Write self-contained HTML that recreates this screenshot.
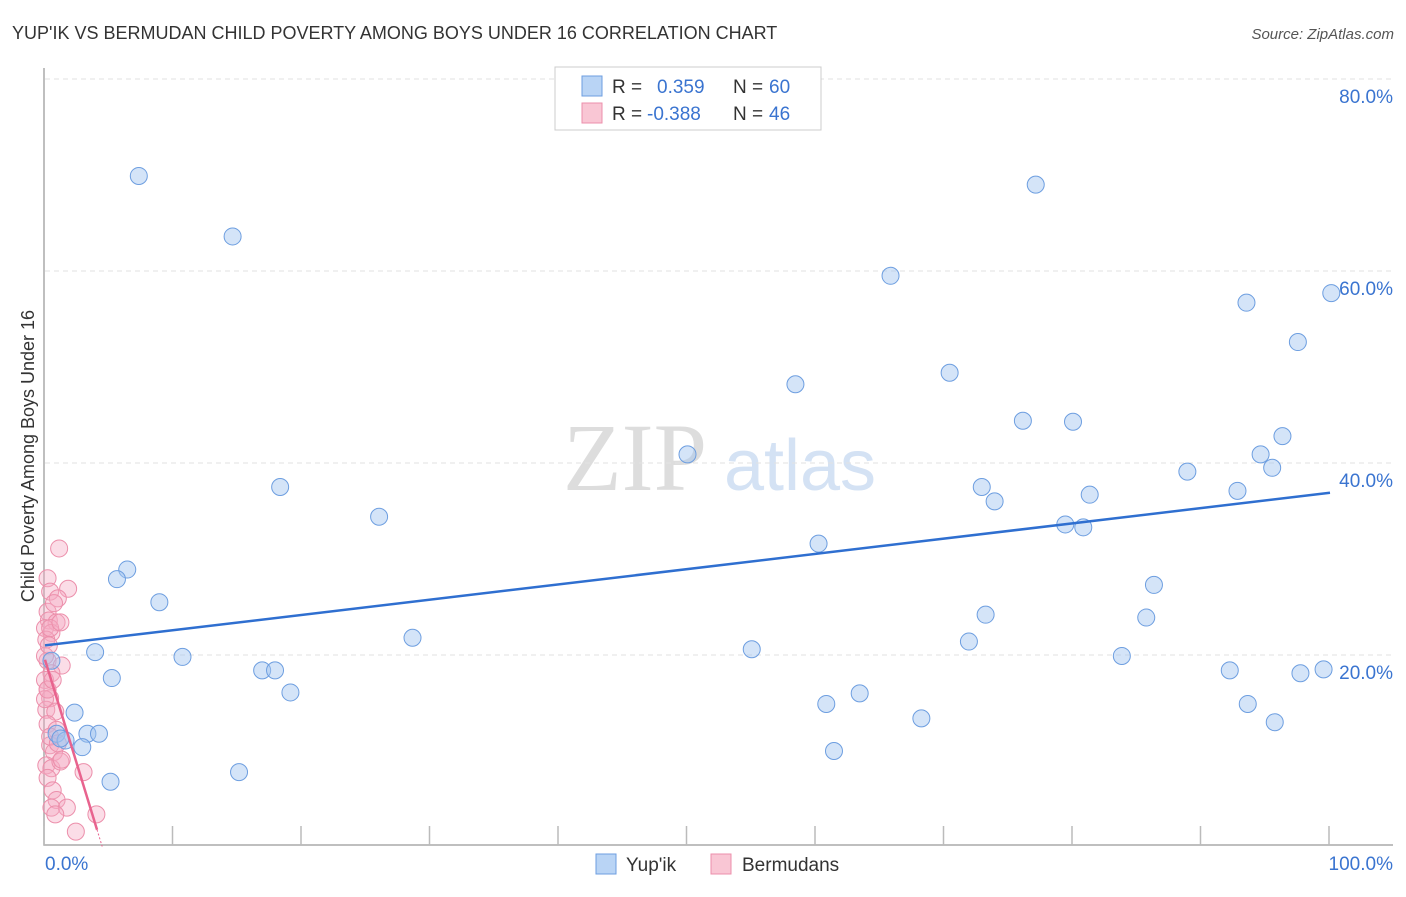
<!DOCTYPE html>
<html><head><meta charset="utf-8"><style>
body{margin:0;background:#fff;font-family:"Liberation Sans",sans-serif}
svg text{font-family:"Liberation Sans",sans-serif}
</style></head><body>
<svg id="chart" width="1406" height="892" viewBox="0 0 1406 892" xmlns="http://www.w3.org/2000/svg">
<text x="12" y="39" font-size="18" fill="#333">YUP'IK VS BERMUDAN CHILD POVERTY AMONG BOYS UNDER 16 CORRELATION CHART</text>
<text x="1394" y="39" font-size="15" fill="#555" font-style="italic" text-anchor="end">Source: ZipAtlas.com</text>
<g>
<text x="635" y="490" font-size="96" fill="#ddd" text-anchor="middle" font-family="Liberation Serif" style="font-family:'Liberation Serif',serif">ZIP</text>
<text x="800" y="490" font-size="72" fill="#d4e2f4" text-anchor="middle">atlas</text>
</g>
<g id="grid"></g>
<g id="axes"></g>
<g id="points"></g>
<g id="trends"></g>
<text transform="translate(34,456) rotate(-90)" font-size="18" fill="#333" text-anchor="middle">Child Poverty Among Boys Under 16</text>
<g>
<rect x="555" y="67" width="266" height="63" fill="#fff" stroke="#ccc"/>
<rect x="582" y="76" width="20" height="20" fill="#b9d4f5" stroke="#6d9ee0"/>
<rect x="582" y="103" width="20" height="20" fill="#f9c6d4" stroke="#ec8fab"/>
<text x="612" y="93" font-size="19" fill="#333">R = </text><text x="657" y="93" font-size="19" fill="#3a74d0">0.359</text>
<text x="733" y="93" font-size="19" fill="#333">N = </text><text x="769" y="93" font-size="19" fill="#3a74d0">60</text>
<text x="612" y="120" font-size="19" fill="#333">R = </text><text x="647" y="120" font-size="19" fill="#3a74d0">-0.388</text>
<text x="733" y="120" font-size="19" fill="#333">N = </text><text x="769" y="120" font-size="19" fill="#3a74d0">46</text>
</g>
<g>
<rect x="596" y="854" width="20" height="20" fill="#b9d4f5" stroke="#6d9ee0"/>
<text x="626" y="871" font-size="19" fill="#333">Yup'ik</text>
<rect x="711" y="854" width="20" height="20" fill="#f9c6d4" stroke="#ec8fab"/>
<text x="742" y="871" font-size="19" fill="#333">Bermudans</text>
</g>
</svg>
<script>
const yupikX=[7.3,14.6,77.1,65.8,93.5,100.1,97.5,58.4,70.4,76.1,80.0,96.3,50.0,94.6,95.5,88.9,72.9,81.3,73.9,92.8,18.3,26.0,79.4,80.8,60.2,6.4,5.6,86.3,8.9,73.2,85.7,28.6,71.9,55.0,3.9,10.7,83.8,16.9,17.9,92.2,97.7,99.5,5.2,19.1,63.4,2.3,60.8,93.6,68.2,95.7,0.9,3.3,4.2,1.6,2.9,61.4,15.1,5.1,0.5,1.2];
const yupikY=[69.9,63.6,69.0,59.5,56.7,57.7,52.6,48.2,49.4,44.4,44.3,42.8,40.9,40.9,39.5,39.1,37.5,36.7,36.0,37.1,37.5,34.4,33.6,33.3,31.6,28.9,27.9,27.3,25.5,24.2,23.9,21.8,21.4,20.6,20.3,19.8,19.9,18.4,18.4,18.4,18.1,18.5,17.6,16.1,16.0,14.0,14.9,14.9,13.4,13.0,11.8,11.8,11.8,11.1,10.4,10.0,7.8,6.8,19.4,11.3];
const bermX=[1.1,0.2,1.8,0.4,1.0,0.2,0.3,0.9,0.0,0.5,0.1,0.4,1.2,0.2,1.3,0.5,0.0,0.2,0.4,0.1,0.8,0.2,0.9,0.4,0.7,0.1,0.5,1.2,3.0,0.2,0.6,0.9,0.5,1.7,0.8,4.0,2.4,0.0,0.3,0.7,0.0,0.4,1.0,0.2,0.6,1.3];
const bermY=[31.1,28.0,26.9,26.6,25.9,24.5,23.6,23.4,22.8,22.3,21.6,22.8,23.4,19.4,18.9,18.1,17.4,16.4,15.5,14.3,14.1,12.8,12.2,10.6,9.9,8.5,8.2,8.9,7.8,7.2,5.9,4.9,4.1,4.1,3.4,3.4,1.6,19.9,21.0,25.4,15.4,11.5,10.8,16.4,17.4,9.1];
const trendStart=[21.0,19.5];
const trendEnd=[36.9,1.8];
const trendEndX=[100,4.05];
const yTicks=[20,40,60,80];
const yTickLabels=["20.0%","40.0%","60.0%","80.0%"];
const xTickVals=[0,10,20,30,40,50,60,70,80,90,100];
const NS="http://www.w3.org/2000/svg";
const X=v=>45+v*12.85, Y=v=>847-v*9.6;
function mk(tag,attrs,parent){const e=document.createElementNS(NS,tag);for(const k in attrs)e.setAttribute(k,attrs[k]);parent.appendChild(e);return e;}
const grid=document.getElementById('grid'),axes=document.getElementById('axes'),pts=document.getElementById('points'),tr=document.getElementById('trends');
yTicks.forEach((t,i)=>{
 const l=mk('line',{x1:45,x2:1393,y1:Y(t),y2:Y(t),stroke:'#e2e2e2','stroke-dasharray':'5,4'},grid);
 
 
 const tx=mk('text',{x:1393,y:Y(t)+24,'font-size':19,fill:'#3a74d0','text-anchor':'end'},axes);
 tx.textContent=yTickLabels[i];
 
 
});
const ax=mk('path',{d:'M44 68 V845 H1393',stroke:'#aaa',fill:'none','stroke-width':1.5},axes);


xTickVals.forEach(v=>{const t=mk('line',{x1:X(v)-1,x2:X(v)-1,y1:826,y2:845,stroke:'#bbb','stroke-width':1.5},axes);
 
 });
const x0=mk('text',{x:45,y:870,'font-size':19,fill:'#3a74d0'},axes);x0.textContent='0.0%';


const x1=mk('text',{x:1393,y:870,'font-size':19,fill:'#3a74d0','text-anchor':'end'},axes);x1.textContent='100.0%';


bermX.forEach((v,i)=>{const c=mk('circle',{cx:X(v),cy:Y(bermY[i]),r:8.5,fill:'rgba(246,170,195,0.4)',stroke:'#ec8fab','stroke-width':1},pts);
 
 });
yupikX.forEach((v,i)=>{const c=mk('circle',{cx:X(v),cy:Y(yupikY[i]),r:8.5,fill:'rgba(160,196,240,0.45)',stroke:'#6d9ee0','stroke-width':1},pts);
 
 });
const b=mk('line',{x1:X(0),y1:Y(trendStart[0]),x2:X(trendEndX[0]),y2:Y(trendEnd[0]),stroke:'#2f6fd0','stroke-width':2.5},tr);


const p=mk('line',{x1:X(0),y1:Y(trendStart[1]),x2:X(trendEndX[1]),y2:Y(trendEnd[1]),stroke:'#e8638e','stroke-width':2.5},tr);


const slope=(trendEnd[1]-trendStart[1])/trendEndX[1];
const pd=mk('line',{x1:X(trendEndX[1]),y1:Y(trendEnd[1]),x2:X(trendEndX[1]+0.4),y2:Y(trendEnd[1]+slope*0.4),stroke:'#e8638e','stroke-width':1,'stroke-dasharray':'2,2'},tr);


</script>
</body></html>
